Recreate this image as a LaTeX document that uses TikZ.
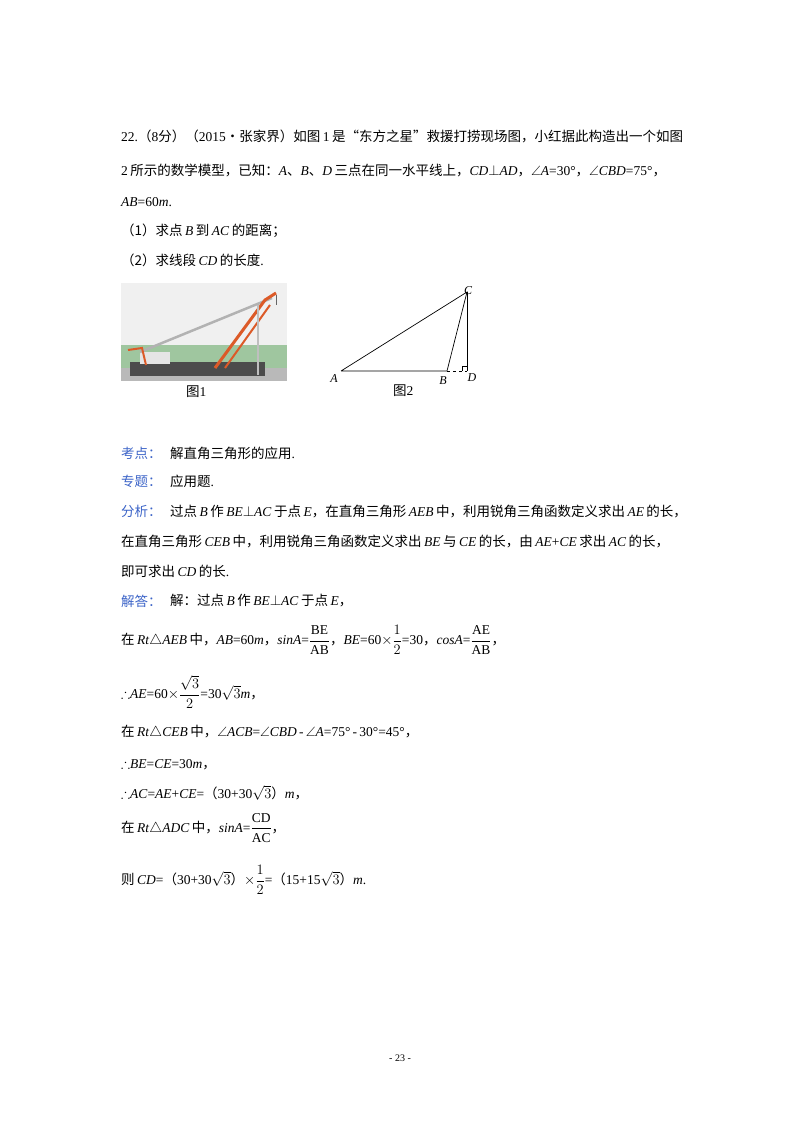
\documentclass[tikz,border=0pt]{standalone}
\usepackage{amsmath,amssymb}
\usepackage{fontspec}
\setmainfont{Liberation Serif}
\newfontfamily\zh{Noto Sans CJK SC}
\newcommand\zz[1]{{\zh #1}}
\newcommand\ii[1]{\textit{#1}}
\newcommand\gp{\hspace{2.5pt}}
\definecolor{lab}{RGB}{60,100,200}
\definecolor{orng}{RGB}{220,90,40}
\begin{document}
\begin{tikzpicture}[x=1pt,y=-1pt,
  t/.style={anchor=west,inner sep=0pt,font=\fontsize{13.5}{16}\selectfont},
  bl/.style={t,text=lab}]
\useasboundingbox[fill=white] (0,0) rectangle (800,1132);
% text block
\node[t] (l1) at (121,136) {22.\zz{（}8\zz{分）（}2015\zz{•张家界）如图}\gp1\gp\zz{是“东方之星”救援打捞现场图，小红据此构造出一个如图}};
\node[t] (l2) at (121,170) {2\gp\zz{所示的数学模型，已知：}\ii{A}\zz{、}\ii{B}\zz{、}\ii{D}\gp\zz{三点在同一水平线上，}\ii{CD}$\perp$\ii{AD}\zz{，}$\angle$\ii{A}=30°\zz{，}$\angle$\ii{CBD}=75°\zz{，}};
\node[t] (l3) at (121,202) {\ii{AB}=60\ii{m}.};
\node[t] (l4) at (121,231) {\zz{（1）求点}\gp\ii{B}\gp\zz{到}\gp\ii{AC}\gp\zz{的距离；}};
\node[t] (l5) at (121,260) {\zz{（2）求线段}\gp\ii{CD}\gp\zz{的长度}.};
% figure 1 photo
\fill[gray!12] (121,283) rectangle (287,381);
\fill[green!25!gray!60] (121,345) rectangle (287,368);
\fill[gray!55] (121,368) rectangle (287,381);
\fill[black!70] (130,362) rectangle (265,376);
\fill[white!80!gray] (140,352) rectangle (170,364);
\draw[gray!60,line width=2.5pt] (140,352) -- (272,298);
\draw[orng,line width=2pt] (128,350) -- (142,348) -- (146,365);
\draw[orng,line width=3pt] (215,368) -- (265,300) -- (276,293);
\draw[orng,line width=2pt] (225,368) -- (270,305);
\draw[gray!50,line width=1.5pt] (258,305) -- (258,375);
\draw[black!60] (276,295) -- (276,305);
\node[t] (f1) at (186,392) {\zz{图}1};
% figure 2
\coordinate (A) at (341,371);
\coordinate (B) at (447,371);
\coordinate (D) at (467,371);
\coordinate (C) at (467,292);
\draw[line width=0.7pt] (A) -- (B) -- (C) -- (A);
\draw[line width=0.7pt] (C) -- (D);
\draw[dashed,line width=0.6pt] (B) -- (D);
\draw[line width=0.5pt] (462,371) -- (462,366) -- (467,366);
\node[font=\fontsize{12}{14}\selectfont\itshape] (la) at (334,379) {A};
\node[font=\fontsize{12}{14}\selectfont\itshape] (lb) at (443,381) {B};
\node[font=\fontsize{12}{14}\selectfont\itshape] (ld) at (472,378) {D};
\node[font=\fontsize{12}{14}\selectfont\itshape] (lc) at (468,291) {C};
\node[t] (f2) at (393,391) {\zz{图}2};
% analysis
\node[bl] (k1) at (121,453) {\zz{考点：}};
\node[t] (k2) at (170,453) {\zz{解直角三角形的应用}.};
\node[bl] (z1) at (121,481) {\zz{专题：}};
\node[t] (z2) at (170,481) {\zz{应用题}.};
\node[bl] (a1) at (121,511) {\zz{分析：}};
\node[t] (a2) at (170,511) {\zz{过点}\gp\ii{B}\gp\zz{作}\gp\ii{BE}$\perp$\ii{AC}\gp\zz{于点}\gp\ii{E}\zz{，在直角三角形}\gp\ii{AEB}\gp\zz{中，利用锐角三角函数定义求出}\gp\ii{AE}\gp\zz{的长，}};
\node[t] (a3) at (121,541) {\zz{在直角三角形}\gp\ii{CEB}\gp\zz{中，利用锐角三角函数定义求出}\gp\ii{BE}\gp\zz{与}\gp\ii{CE}\gp\zz{的长，由}\gp\ii{AE}+\ii{CE}\gp\zz{求出}\gp\ii{AC}\gp\zz{的长，}};
\node[t] (a4) at (121,571) {\zz{即可求出}\gp\ii{CD}\gp\zz{的长}.};
\node[bl] (s1) at (121,601) {\zz{解答：}};
\node[t] (s2) at (170,601) {\zz{解：过点}\gp\ii{B}\gp\zz{作}\gp\ii{BE}$\perp$\ii{AC}\gp\zz{于点}\gp\ii{E}\zz{，}};
\node[t] (m1) at (121,640) {\zz{在}\gp\ii{Rt}$\triangle$\ii{AEB}\gp\zz{中，}\ii{AB}=60\ii{m}\zz{，}\ii{sinA}=$\dfrac{\mathrm{BE}}{\mathrm{AB}}$\zz{，}\ii{BE}=60$\times\dfrac{1}{2}$=30\zz{，}\ii{cosA}=$\dfrac{\mathrm{AE}}{\mathrm{AB}}$\zz{，}};
\node[t] (m2) at (121,692) {$\therefore$\ii{AE}=60$\times\dfrac{\sqrt{3}}{2}$=30$\sqrt{3}$\ii{m}\zz{，}};
\node[t] (m3) at (121,732) {\zz{在}\gp\ii{Rt}$\triangle$\ii{CEB}\gp\zz{中，}$\angle$\ii{ACB}=$\angle$\ii{CBD}\,-\,$\angle$\ii{A}=75°\,-\,30°=45°\zz{，}};
\node[t] (m4) at (121,765) {$\therefore$\ii{BE}=\ii{CE}=30\ii{m}\zz{，}};
\node[t] (m5) at (121,793) {$\therefore$\ii{AC}=\ii{AE}+\ii{CE}=\zz{（}30+30$\sqrt{3}$\zz{）}\ii{m}\zz{，}};
\node[t] (m6) at (121,828) {\zz{在}\gp\ii{Rt}$\triangle$\ii{ADC}\gp\zz{中，}\ii{sinA}=$\dfrac{\mathrm{CD}}{\mathrm{AC}}$\zz{，}};
\node[t] (m7) at (121,880) {\zz{则}\gp\ii{CD}=\zz{（}30+30$\sqrt{3}$\zz{）}$\times\dfrac{1}{2}$=\zz{（}15+15$\sqrt{3}$\zz{）}\ii{m}.};
\node[font=\fontsize{10}{12}\selectfont] (pg) at (400,1058) {- 23 -};
\end{tikzpicture}
\end{document}
